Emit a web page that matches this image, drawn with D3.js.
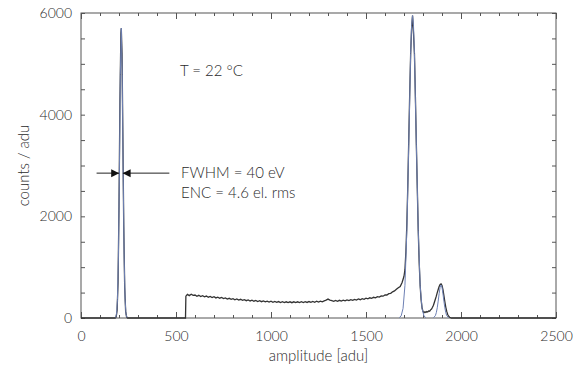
<!DOCTYPE html>
<html>
<head>
<meta charset="utf-8">
<script src="https://cdn.jsdelivr.net/npm/d3@7"></script>
<style>
  body { margin: 0; background: #fff; }
  svg text { font-family: Lato, "DejaVu Sans", sans-serif; font-weight: 300; fill: #2a2a2a; }
</style>
</head>
<body>
<svg id="chart"></svg>
<script>
// measured spectrum [amplitude (adu), counts]
const spectrum = [
  [0, 0], [180, 0], [185, 20], [190, 150], [195, 700], [200, 2200], [205, 4300], [210, 5600], [212, 5700],
  [216, 5200], [220, 3700], [225, 1800], [230, 600], [235, 130], [240, 20], [245, 0], [550, 0],
  [552, 430], [560, 465], [570, 440], [580, 468], [590, 445], [600, 452], [610, 428], [620, 446], [630, 422],
  [640, 440], [650, 417], [660, 432], [670, 409], [680, 424], [690, 402], [700, 418], [710, 395], [720, 409],
  [730, 389], [740, 404], [750, 382], [760, 395], [770, 373], [780, 388], [790, 367], [800, 381], [810, 359],
  [820, 374], [830, 353], [840, 368], [850, 347], [860, 361], [870, 341], [880, 355], [890, 335], [900, 350],
  [910, 330], [920, 345], [930, 325], [940, 340], [950, 321], [960, 335], [970, 317], [980, 332], [990, 313],
  [1000, 329], [1010, 310], [1020, 326], [1030, 307], [1040, 323], [1050, 305], [1060, 321], [1070, 303],
  [1080, 319], [1090, 302], [1100, 318], [1110, 301], [1120, 318], [1130, 302], [1140, 319], [1150, 303],
  [1160, 320], [1170, 304], [1180, 322], [1190, 306], [1200, 324], [1210, 308], [1220, 326], [1230, 310],
  [1240, 329], [1250, 313], [1260, 332], [1270, 319], [1280, 338], [1290, 352], [1300, 372], [1310, 352],
  [1320, 341], [1330, 327], [1340, 345], [1350, 329], [1360, 348], [1370, 333], [1380, 352], [1390, 337],
  [1400, 356], [1410, 342], [1420, 362], [1430, 347], [1440, 367], [1450, 353], [1460, 374], [1470, 360],
  [1480, 381], [1490, 368], [1500, 389], [1510, 377], [1520, 398], [1530, 387], [1540, 408], [1550, 398],
  [1560, 420], [1570, 411], [1580, 434], [1590, 429], [1600, 452], [1610, 452], [1620, 478], [1630, 485],
  [1640, 515], [1650, 532], [1660, 565], [1670, 595], [1680, 620], [1690, 700], [1700, 820], [1705, 950],
  [1710, 1300], [1715, 1850], [1720, 2600], [1725, 3500], [1730, 4400], [1735, 5200], [1740, 5700],
  [1745, 5950], [1750, 5600], [1755, 5200], [1760, 4350], [1765, 3420], [1770, 2550], [1775, 1720],
  [1780, 1080], [1785, 640], [1790, 360], [1795, 200], [1800, 130], [1805, 105], [1810, 122], [1815, 110],
  [1820, 128], [1825, 118], [1830, 140], [1835, 135], [1840, 160], [1845, 175], [1850, 210], [1855, 250],
  [1860, 310], [1865, 370], [1870, 430], [1875, 500], [1880, 560], [1885, 620], [1890, 660], [1895, 670],
  [1900, 640], [1905, 560], [1910, 440], [1915, 320], [1920, 210], [1925, 130], [1930, 70], [1935, 35],
  [1940, 15], [1950, 0], [2500, 0]
];

// gaussian fits
const fitLow = [
  [182, 10], [187, 74], [192, 360], [197, 1200], [202, 2850], [207, 4790], [212, 5700],
  [217, 4790], [222, 2850], [227, 1200], [232, 360], [237, 74], [242, 10]
];
const fitMain = [
  [1675, 7], [1685, 41], [1695, 188], [1705, 640], [1715, 1720], [1725, 3420], [1735, 5200], [1740, 5750],
  [1745, 5950], [1750, 5750], [1755, 5200], [1765, 3420], [1775, 1720], [1785, 640], [1795, 188],
  [1805, 41], [1815, 7]
];
const fitSecond = [
  [1855, 6], [1865, 45], [1870, 104], [1875, 201], [1880, 332], [1885, 481], [1890, 604], [1895, 650],
  [1900, 604], [1905, 481], [1910, 332], [1915, 201], [1920, 104], [1925, 45], [1935, 6]
];

const xTickLabels = [0, 500, 1000, 1500, 2000, 2500];
const yTickLabels = [0, 2000, 4000, 6000];

const W = 583, H = 369;
const margin = { top: 13, right: 27, bottom: 51, left: 81 };
const width = W - margin.left - margin.right;
const height = H - margin.top - margin.bottom;

const svg = d3.select('#chart').attr('width', W).attr('height', H);
const g = svg.append('g').attr('transform', `translate(${margin.left},${margin.top})`);

const x = d3.scaleLinear().domain([0, 2500]).range([0, width]);
const y = d3.scaleLinear().domain([0, 6000]).range([height, 0]);

// frame ticks (inward on all sides)
const tickColor = '#555';
function addTicks(axisFn, scale, values, size, transform) {
  g.append('g')
    .attr('transform', transform || null)
    .call(axisFn(scale).tickValues(values).tickSize(size).tickFormat(''))
    .call(a => a.select('.domain').remove())
    .call(a => a.selectAll('line').attr('stroke', tickColor));
}
const xMinor = d3.range(0, 2501, 100);
const yMinor = d3.range(0, 6001, 500);
addTicks(d3.axisTop, x, xMinor, 3, `translate(0,${height})`);
addTicks(d3.axisTop, x, xTickLabels, 6, `translate(0,${height})`);
addTicks(d3.axisBottom, x, xMinor, 3);
addTicks(d3.axisBottom, x, xTickLabels, 6);
addTicks(d3.axisRight, y, yMinor, 4);
addTicks(d3.axisLeft, y, yMinor, 4, `translate(${width},0)`);

g.append('rect')
  .attr('width', width).attr('height', height)
  .attr('fill', 'none').attr('stroke', tickColor).attr('stroke-width', 1);

// tick labels
g.append('g')
  .attr('transform', `translate(0,${height})`)
  .call(d3.axisBottom(x).tickValues(xTickLabels).tickSize(0).tickPadding(13).tickFormat(d3.format('d')))
  .call(a => a.select('.domain').remove())
  .selectAll('text').style('font-size', '14px').style('font-family', 'Lato, sans-serif').attr('fill', '#2a2a2a');

g.append('g')
  .call(d3.axisLeft(y).tickValues(yTickLabels).tickSize(0).tickPadding(9).tickFormat(d3.format('d')))
  .call(a => a.select('.domain').remove())
  .selectAll('text').style('font-size', '14px').style('font-family', 'Lato, sans-serif').attr('fill', '#2a2a2a');

// axis titles
svg.append('text')
  .attr('x', margin.left + width / 2).attr('y', 361)
  .attr('text-anchor', 'middle').style('font-size', '15px')
  .text('amplitude [adu]');
svg.append('text')
  .attr('transform', `translate(29,${margin.top + height / 2}) rotate(-90)`)
  .attr('text-anchor', 'middle').style('font-size', '15px')
  .text('counts / adu');

// curves
const line = d3.line().x(d => x(d[0])).y(d => y(d[1]));
g.append('path').datum(spectrum)
  .attr('d', line).attr('fill', 'none').attr('stroke', '#333').attr('stroke-width', 1.3);
[fitLow, fitMain, fitSecond].forEach(f => {
  g.append('path').datum(f)
    .attr('d', line).attr('fill', 'none').attr('stroke', '#6d80b4').attr('stroke-width', 1);
});

// FWHM arrows
const ay = y(2850);
const arrow = (tip, dir) => {
  const t = x(tip);
  g.append('path')
    .attr('d', `M${t},${ay} L${t - dir * 8},${ay - 4} L${t - dir * 8},${ay + 4} Z`)
    .attr('fill', '#111');
};
g.append('line').attr('x1', x(82)).attr('x2', x(200)).attr('y1', ay).attr('y2', ay)
  .attr('stroke', '#222').attr('stroke-width', 1);
g.append('line').attr('x1', x(222)).attr('x2', x(465)).attr('y1', ay).attr('y2', ay)
  .attr('stroke', '#222').attr('stroke-width', 1);
arrow(201, 1);
arrow(219, -1);

// annotations
svg.append('text').attr('x', 180).attr('y', 76).style('font-size', '15px').text('T = 22 °C');
svg.append('text').attr('x', 181).attr('y', 178).style('font-size', '15px').text('FWHM = 40 eV');
svg.append('text').attr('x', 181).attr('y', 198).style('font-size', '15px').text('ENC = 4.6 el. rms');
</script>
</body>
</html>
